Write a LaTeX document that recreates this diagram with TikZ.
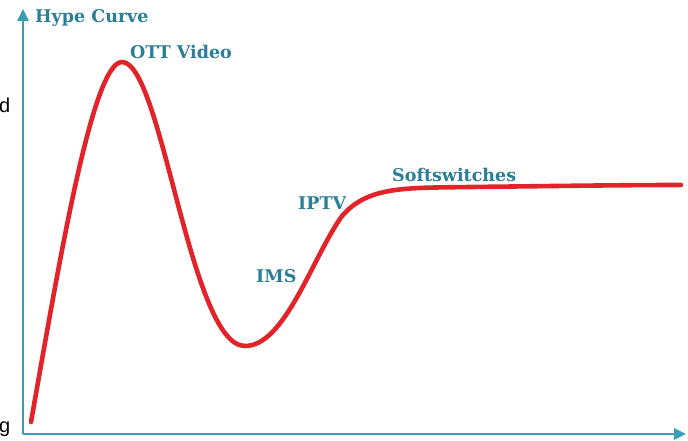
\documentclass[tikz,border=0pt]{standalone}
\usepackage{fontspec}
\setmainfont{DejaVu Serif}
\newfontfamily\sidefont{Liberation Sans}
\usetikzlibrary{arrows.meta}
\definecolor{axisblue}{HTML}{3A9DB6}
\definecolor{labelteal}{HTML}{2A7E97}
\definecolor{hypered}{HTML}{E3232A}
\tikzset{
  axisline/.style={draw=axisblue, line width=2.6pt, -{Triangle[length=12pt,width=11pt]}},
  phase/.style={text=labelteal, font=\bfseries\fontsize{17.5}{20}\selectfont, inner sep=0pt},
  sidetext/.style={text=black, font=\sidefont\fontsize{20}{22}\selectfont, inner sep=0pt},
  hype/.style={draw=hypered, line width=4.6pt, line cap=round, line join=round}
}
\begin{document}
\begin{tikzpicture}[x=1pt,y=-1pt]
\useasboundingbox (0,0) rectangle (688,441);
\fill[white] (0,0) rectangle (688,441);

% axes
\coordinate (origin) at (23,434);
\coordinate (ytop) at (23,9);
\coordinate (xend) at (686,434);
\draw[axisline] (origin) -- (ytop);
\draw[axisline] (origin) -- (xend);

% hype curve
\coordinate (start) at (31,422);
\coordinate (peak) at (122,62);
\coordinate (trough) at (245,346);
\coordinate (bend) at (342,216);
\coordinate (knee) at (470,187);
\coordinate (plateau) at (681,185);
\draw[hype] (start) .. controls (58,270) and (92,62) .. (peak)
  .. controls (162,62) and (190,346) .. (trough)
  .. controls (285,346) and (312,258) .. (bend)
  .. controls (368,186) and (405,188) .. (knee)
  .. controls (560,186) and (620,185) .. (plateau);

% labels
\node[phase, anchor=west] (title) at (35,18) {Hype Curve};
\node[phase, anchor=west] (ott) at (130,52) {OTT Video};
\node[phase, anchor=west] (ims) at (256,276) {IMS};
\node[phase, anchor=west] (iptv) at (298,203) {IPTV};
\node[phase, anchor=west] (soft) at (392,175) {Softswitches};

% text ending at the left margin
\node[sidetext, anchor=west] (sideA) at (-1,105) {d};
\node[sidetext, anchor=west] (sideB) at (-1,429) {g};
\end{tikzpicture}
\end{document}
